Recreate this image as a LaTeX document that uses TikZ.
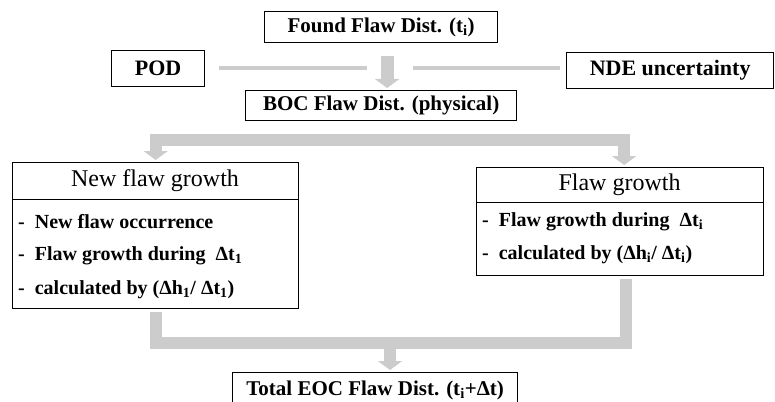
\documentclass[tikz,border=0pt]{standalone}
\usepackage{fontspec}
\setmainfont{Liberation Serif}
\usetikzlibrary{arrows.meta}
\definecolor{gbar}{RGB}{204,204,204}
\begin{document}
\begin{tikzpicture}[x=1pt,y=-1pt,
  box/.style={draw=black, line width=1.3pt, inner sep=0pt, anchor=north west, align=center},
  hd/.style={font=\fontsize{21}{25}\selectfont\bfseries},
  shd/.style={font=\fontsize{22}{26}\selectfont\bfseries},
  rhd/.style={font=\fontsize{24}{28}\selectfont, inner sep=0pt},
  item/.style={font=\fontsize{20}{24}\selectfont\bfseries, anchor=west, inner sep=0pt},
  sep/.style={draw=black, line width=1pt},
  gline/.style={draw=gbar, line width=4.5pt},
  gpipe/.style={draw=gbar, line width=12pt, line join=miter},
  gtip/.style={-{Triangle[width=24pt,length=9pt]}},
]
\clip (0,0) rectangle (775,401);
\fill[white] (0,0) rectangle (775,401);

% boxes
\node[box, hd, minimum width=233pt, minimum height=31pt] (found) at (264,11) {Found Flaw Dist. (t\textsubscript{i})};
\node[box, shd, minimum width=93pt, minimum height=36pt] (pod) at (111,50) {POD};
\node[box, shd, minimum width=207pt, minimum height=36pt] (nde) at (566,52) {NDE uncertainty};
\node[box, hd, minimum width=271pt, minimum height=30pt] (boc) at (245,90) {BOC Flaw Dist. (physical)};

\node[box, minimum width=286pt, minimum height=146pt] (nf) at (12,162) {};
\draw[sep] ([yshift=-37pt]nf.north west) -- ([yshift=-37pt]nf.north east);
\node[rhd] (nfh) at (155,181) {New flaw growth};
\node[item] (nf1) at (18,222) {-\ \ New flaw occurrence};
\node[item] (nf2) at (18,256) {-\ \ Flaw growth during\ \ Δt\textsubscript{1}};
\node[item] (nf3) at (18,290) {-\ \ calculated by (Δh\textsubscript{1}/ Δt\textsubscript{1})};

\node[box, minimum width=287pt, minimum height=108pt] (fg) at (476,167) {};
\draw[sep] ([yshift=-35pt]fg.north west) -- ([yshift=-35pt]fg.north east);
\node[rhd] (fgh) at (619.5,185) {Flaw growth};
\node[item] (fg1) at (482,222) {-\ \ Flaw growth during\ \ Δt\textsubscript{i}};
\node[item] (fg2) at (482,255) {-\ \ calculated by (Δh\textsubscript{i}/ Δt\textsubscript{i})};

\node[box, hd, minimum width=285pt, minimum height=36pt] (total) at (232,372) {Total EOC Flaw Dist. (t\textsubscript{i}+Δt)};

% gray connectors
\coordinate (podend) at (367,68);
\coordinate (ndeend) at (413,68);
\draw[gline] ([xshift=14pt]pod.east |- podend) -- (podend);
\draw[gline] ([xshift=-6pt]nde.west |- ndeend) -- (ndeend);
\draw[gpipe, gtip, line width=13pt, shorten <=13pt, shorten >=2pt] ([xshift=6pt]found.south) -- ([xshift=6pt]boc.north);

\coordinate (split) at ([yshift=-19pt]boc.south);
\draw[gpipe, {Triangle[width=24pt,length=9pt]}-{Triangle[width=24pt,length=9pt]}, shorten <=2pt, shorten >=2pt]
  (nf.north) |- (split) -| ([xshift=4pt]fg.north);

\coordinate (merge) at (390,343);
\draw[gpipe, shorten <=3pt, shorten >=3pt] (nf.south) |- (merge) -| ([xshift=6pt]fg.south);
\draw[gpipe, gtip, shorten >=2pt] (merge) -- (merge |- total.north);
\end{tikzpicture}
\end{document}
